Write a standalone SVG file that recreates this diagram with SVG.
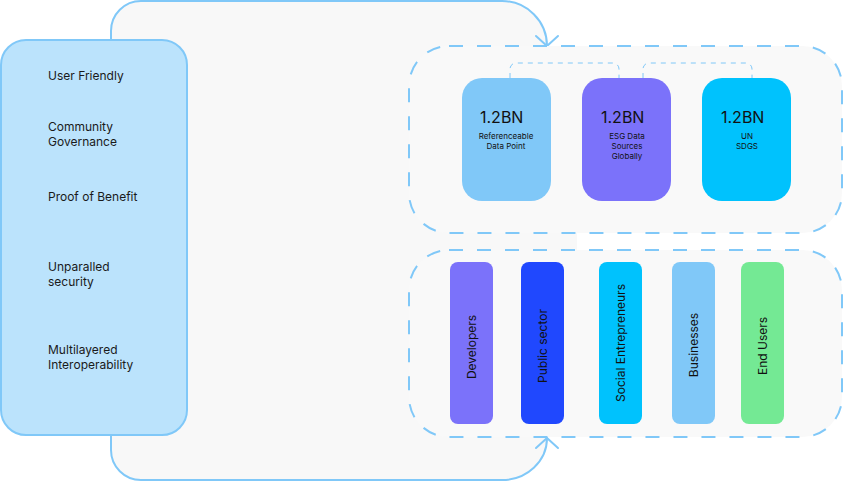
<svg xmlns="http://www.w3.org/2000/svg" width="845" height="481" viewBox="0 0 845 481">
<style>
.flow{fill:none;stroke:#80c8f8;stroke-width:2;stroke-linecap:round;stroke-linejoin:round}
.dbox{fill:#f9f9f9;stroke:#80c8f8;stroke-width:2;stroke-dasharray:14 14}
.link{fill:none;stroke:#80c8f8;stroke-width:1;stroke-dasharray:5 5}
.big{font-family:Inter,"Liberation Sans",sans-serif;font-size:16px;fill:#111}
.sub{font-family:Inter,"Liberation Sans",sans-serif;font-size:8px;fill:#111;text-anchor:middle}
.feat{font-family:Inter,"Liberation Sans",sans-serif;font-size:12px;fill:#1a1a1a}
.vt{font-family:Inter,"Liberation Sans",sans-serif;font-size:12px;fill:#111;text-anchor:middle}
</style>
<rect width="845" height="481" fill="#ffffff"/>
<path d="M111,40 V31 A30,30 0 0 1 141,1 H502 A45,45 0 0 1 547,46 H577 V437 H547 A45,42 0 0 1 502,480 H141 A30,30 0 0 1 111,450 Z" fill="#f8f8f8"/>
<g id="connectors">
<path class="flow" d="M111,40 V31 A30,30 0 0 1 141,1 H502 A45,45 0 0 1 547,46"/>
<path class="flow" d="M536,36 L547,46 L558,36"/>
<path class="flow" d="M111,435 V450 A30,30 0 0 0 141,480 H502 A45,42 0 0 0 547,438"/>
<path class="flow" d="M536,448 L547,438 L558,448"/>
</g>
<g id="stats-group"><rect class="dbox" x="409" y="46" width="433" height="187" rx="40"/></g>
<g id="users-group"><rect class="dbox" x="409" y="250" width="433" height="187" rx="40"/></g>
<g id="links">
<path class="link" d="M510,78 V69 A6,6 0 0 1 516,63 H613 A6,6 0 0 1 619,69 V78"/>
<path class="link" d="M643,78 V69 A6,6 0 0 1 649,63 H746 A6,6 0 0 1 752,69 V78"/>
</g>
<g id="features">
<rect x="1" y="40" width="186" height="395" rx="25" fill="#bbe3fc" stroke="#80c8f8" stroke-width="2"/>
<text class="feat" x="48" y="80">User Friendly</text>
<text class="feat" x="48" y="131">Community</text>
<text class="feat" x="48" y="146">Governance</text>
<text class="feat" x="48" y="201">Proof of Benefit</text>
<text class="feat" x="48" y="271">Unparalled</text>
<text class="feat" x="48" y="286">security</text>
<text class="feat" x="48" y="354">Multilayered</text>
<text class="feat" x="48" y="369">Interoperability</text>
</g>
<g id="stat-1">
<rect x="462" y="78" width="89" height="123" rx="20" fill="#80c8f8"/>
<text class="big" x="480" y="123">1.2BN</text>
<text class="sub" x="506" y="139">Referenceable</text>
<text class="sub" x="506" y="149">Data Point</text>
</g>
<g id="stat-2">
<rect x="582" y="78" width="89" height="123" rx="20" fill="#7b72fa"/>
<text class="big" x="601" y="123">1.2BN</text>
<text class="sub" x="627" y="139">ESG Data</text>
<text class="sub" x="627" y="149">Sources</text>
<text class="sub" x="627" y="159">Globally</text>
</g>
<g id="stat-3">
<rect x="702" y="78" width="89" height="123" rx="20" fill="#00c2fd"/>
<text class="big" x="721" y="123">1.2BN</text>
<text class="sub" x="747" y="139">UN</text>
<text class="sub" x="747" y="149">SDGS</text>
</g>
<g id="developers">
<rect x="450" y="262" width="43" height="162" rx="8" fill="#7b72fa"/>
<text class="vt" transform="translate(475.5,347) rotate(-90)">Developers</text>
</g>
<g id="public-sector">
<rect x="521" y="262" width="43" height="162" rx="8" fill="#2048fe"/>
<text class="vt" transform="translate(546.5,346) rotate(-90)">Public sector</text>
</g>
<g id="social-entrepreneurs">
<rect x="599" y="262" width="43" height="162" rx="8" fill="#00c2fd"/>
<text class="vt" transform="translate(624.5,343) rotate(-90)">Social Entrepreneurs</text>
</g>
<g id="businesses">
<rect x="672" y="262" width="43" height="162" rx="8" fill="#80c8f8"/>
<text class="vt" transform="translate(697.5,345) rotate(-90)">Businesses</text>
</g>
<g id="end-users">
<rect x="741" y="262" width="43" height="162" rx="8" fill="#74e994"/>
<text class="vt" transform="translate(766.5,346) rotate(-90)">End Users</text>
</g>
</svg>
